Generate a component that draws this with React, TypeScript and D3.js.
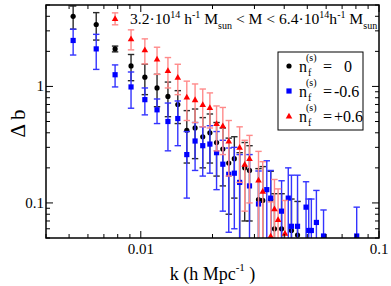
import React from "react";
import * as d3 from "d3";

// k (h/Mpc), delta b, error
const blackK = [0.0052, 0.0065, 0.0078, 0.0091, 0.0104, 0.0117, 0.013, 0.0143, 0.0156, 0.0169, 0.0182, 0.0195, 0.0208, 0.0221, 0.0234, 0.0247, 0.026, 0.0273, 0.0286, 0.0312, 0.0325, 0.0351, 0.0364, 0.039, 0.0429, 0.0455];
const blackB = [4.0, 3.4, 2.1, 1.5, 1.2, 0.97, 0.82, 0.7, 0.42, 0.44, 0.37, 0.4, 0.33, 0.29, 0.22, 0.24, 0.15, 0.2, 0.19, 0.107, 0.105, 0.107, 0.06, 0.06, 0.058, 0.053];
const blackE = [0.9, 0.9, 0.12, 0.38, 0.35, 0.3, 0.27, 0.22, 0.2, 0.2, 0.17, 0.18, 0.16, 0.15, 0.14, 0.13, 0.12, 0.13, 0.12, 0.09, 0.1, 0.08, 0.06, 0.06, 0.05, 0.05];

const blueK = [0.0052, 0.0065, 0.0078, 0.0091, 0.0104, 0.0117, 0.013, 0.0143, 0.0156, 0.0169, 0.0182, 0.0195, 0.0208, 0.0221, 0.0234, 0.0247, 0.026, 0.0286, 0.0312, 0.0338, 0.0351, 0.039, 0.0416, 0.0429, 0.0455, 0.0494, 0.0507, 0.052, 0.0546, 0.0585, 0.0806];
const blueB = [2.48, 2.1, 1.26, 0.99, 0.77, 0.63, 0.5, 0.53, 0.26, 0.34, 0.31, 0.32, 0.27, 0.215, 0.176, 0.18, 0.15, 0.14, 0.098, 0.13, 0.11, 0.085, 0.11, 0.063, 0.063, 0.092, 0.058, 0.058, 0.068, 0.052, 0.052];
const blueE = [0.62, 0.7, 0.27, 0.34, 0.2, 0.15, 0.22, 0.22, 0.15, 0.15, 0.14, 0.14, 0.14, 0.13, 0.12, 0.12, 0.11, 0.12, 0.09, 0.1, 0.08, 0.07, 0.09, 0.11, 0.11, 0.06, 0.05, 0.05, 0.06, 0.035, 0.04];

const redK = [0.0078, 0.0091, 0.0104, 0.0117, 0.013, 0.0143, 0.0156, 0.0169, 0.0182, 0.0195, 0.0208, 0.0221, 0.0234, 0.026, 0.0273, 0.0286, 0.0312, 0.0325, 0.0351, 0.0364, 0.0377, 0.0403];
const redB = [3.83, 2.56, 2.06, 1.72, 1.37, 1.2, 0.81, 0.77, 0.7, 0.66, 0.48, 0.46, 0.34, 0.3, 0.215, 0.24, 0.157, 0.126, 0.052, 0.089, 0.072, 0.055];
const redE = [0.45, 0.5, 0.5, 0.45, 0.4, 0.35, 0.3, 0.28, 0.25, 0.22, 0.2, 0.2, 0.17, 0.15, 0.13, 0.14, 0.12, 0.1, 0.05, 0.07, 0.06, 0.05];

const xTicksMajor = [0.01, 0.1];
const yTicksMajor = [0.1, 1];

const W = 391;
const H = 286;
const margin = { left: 46, right: 12, top: 5, bottom: 48 };
const FONT = '"Liberation Serif", "DejaVu Serif", serif';

type Pt = { k: number; b: number; e: number };
const zip = (k: number[], b: number[], e: number[]): Pt[] =>
  k.map((kk, i) => ({ k: kk, b: b[i], e: e[i] }));

const series = [
  { name: "0", pts: zip(blackK, blackB, blackE), color: "#000000", bar: "#2a2a2a", shape: "circle" },
  { name: "-0.6", pts: zip(blueK, blueB, blueE), color: "#0000ff", bar: "#3333ff", shape: "square" },
  { name: "+0.6", pts: zip(redK, redB, redE), color: "#ff0000", bar: "#ff8a8a", shape: "triangle" },
];

const Marker = ({ shape, x, y, color }: { shape: string; x: number; y: number; color: string }) => {
  if (shape === "circle") return <circle cx={x} cy={y} r={2.6} fill={color} />;
  if (shape === "square") return <rect x={x - 2.6} y={y - 2.6} width={5.2} height={5.2} fill={color} />;
  const s = 3.3;
  return <path d={`M${x},${y - s}L${x + s},${y + s * 0.75}L${x - s},${y + s * 0.75}Z`} fill={color} />;
};

export default function App() {
  const x0 = margin.left;
  const x1 = W - margin.right;
  const y0 = margin.top;
  const y1 = H - margin.bottom;
  const x = d3.scaleLog().domain([0.004, 0.1]).range([x0, x1]);
  const y = d3.scaleLog().domain([0.05, 5]).range([y1, y0]);

  const xMinor: number[] = [];
  for (let d = 0.001; d < 0.1; d *= 10)
    for (let m = 2; m <= 9; m++) {
      const v = d * m;
      if (v >= 0.004 && v <= 0.1) xMinor.push(v);
    }
  const yMinor: number[] = [];
  for (let d = 0.01; d < 10; d *= 10)
    for (let m = 2; m <= 9; m++) {
      const v = d * m;
      if (v >= 0.05 && v <= 5) yMinor.push(v);
    }

  const major = 7;
  const minor = 4;

  return (
    <svg width={W} height={H} style={{ position: "absolute", left: 0, top: 0, background: "#fff", fontFamily: FONT }}>
      <defs>
        <clipPath id="plotclip">
          <rect x={x0} y={y0} width={x1 - x0} height={y1 - y0} />
        </clipPath>
      </defs>

      {/* data */}
      <g clipPath="url(#plotclip)">
        {series.map((s) => (
          <g key={s.name}>
            {s.pts.map((p, i) => {
              const px = x(p.k);
              const lo = p.b - p.e;
              const yLo = lo > 0 ? y(lo) : y1 + 10;
              const yHi = y(p.b + p.e);
              return (
                <g key={i} stroke={s.bar} strokeWidth={1.4}>
                  <line x1={px} x2={px} y1={yLo} y2={yHi} />
                  <line x1={px - 3.2} x2={px + 3.2} y1={yHi} y2={yHi} />
                  {lo > 0 && <line x1={px - 3.2} x2={px + 3.2} y1={yLo} y2={yLo} />}
                </g>
              );
            })}
            {s.pts.map((p, i) => (
              <Marker key={i} shape={s.shape} x={x(p.k)} y={y(p.b)} color={s.color} />
            ))}
          </g>
        ))}
      </g>

      {/* ticks */}
      <g stroke="#000" strokeWidth={1}>
        {xMinor.map((v) => (
          <g key={"xm" + v}>
            <line x1={x(v)} x2={x(v)} y1={y1} y2={y1 - minor} />
            <line x1={x(v)} x2={x(v)} y1={y0} y2={y0 + minor} />
          </g>
        ))}
        {xTicksMajor.map((v) => (
          <g key={"xM" + v}>
            <line x1={x(v)} x2={x(v)} y1={y1} y2={y1 - major} />
            <line x1={x(v)} x2={x(v)} y1={y0} y2={y0 + major} />
          </g>
        ))}
        {yMinor.map((v) => (
          <g key={"ym" + v}>
            <line x1={x0} x2={x0 + minor} y1={y(v)} y2={y(v)} />
            <line x1={x1} x2={x1 - minor} y1={y(v)} y2={y(v)} />
          </g>
        ))}
        {yTicksMajor.map((v) => (
          <g key={"yM" + v}>
            <line x1={x0} x2={x0 + major} y1={y(v)} y2={y(v)} />
            <line x1={x1} x2={x1 - major} y1={y(v)} y2={y(v)} />
          </g>
        ))}
      </g>
      <rect x={x0} y={y0} width={x1 - x0} height={y1 - y0} fill="none" stroke="#000" strokeWidth={1.5} />

      {/* tick labels */}
      <g fontSize={15} fill="#000">
        {xTicksMajor.map((v) => (
          <text key={"xl" + v} x={x(v)} y={y1 + 16} textAnchor="middle">{String(v)}</text>
        ))}
        {yTicksMajor.map((v) => (
          <text key={"yl" + v} x={x0 - 2} y={y(v) + 5} textAnchor="end">{String(v)}</text>
        ))}
      </g>

      {/* axis titles */}
      <text x={(x0 + x1) / 2} y={y1 + 42} textAnchor="middle" fontSize={18}>
        k (h Mpc<tspan dy={-9} fontSize={11}>-1</tspan><tspan dy={9}> )</tspan>
      </text>
      <text transform={`translate(25,${(y0 + y1) / 2 + 2}) rotate(-90)`} textAnchor="middle" fontSize={21}>
        Δ b
      </text>

      {/* mass range */}
      <text x={130} y={24} fontSize={15.6}>
        3.2·10<tspan dy={-6} fontSize={10}>14</tspan>
        <tspan dy={6}> h</tspan><tspan dy={-6} fontSize={10}>-1</tspan>
        <tspan dy={6}> M</tspan><tspan dy={5} fontSize={10}>sun</tspan>
        <tspan dy={-5}> &lt; M &lt; 6.4·10</tspan><tspan dy={-6} fontSize={10}>14</tspan>
        <tspan dy={6}>h</tspan><tspan dy={-6} fontSize={10}>-1</tspan>
        <tspan dy={6}> M</tspan><tspan dy={5} fontSize={10}>sun</tspan>
      </text>

      {/* legend */}
      <rect x={278} y={52} width={85} height={78} fill="#fff" stroke="#000" strokeWidth={1} />
      {series.map((s, i) => {
        const ry = 66 + i * 25;
        return (
          <g key={"lg" + s.name}>
            <Marker shape={s.shape} x={289} y={ry} color={s.color} />
            <text x={299} y={ry + 6} fontSize={16}>n</text>
            <text x={306} y={ry - 5} fontSize={10}>(s)</text>
            <text x={308} y={ry + 10} fontSize={10}>f</text>
            <text x={323} y={ry + 6} fontSize={16}>=</text>
            <text x={i === 0 ? 344 : 334} y={ry + 6} fontSize={16}>{s.name}</text>
          </g>
        );
      })}
    </svg>
  );
}
